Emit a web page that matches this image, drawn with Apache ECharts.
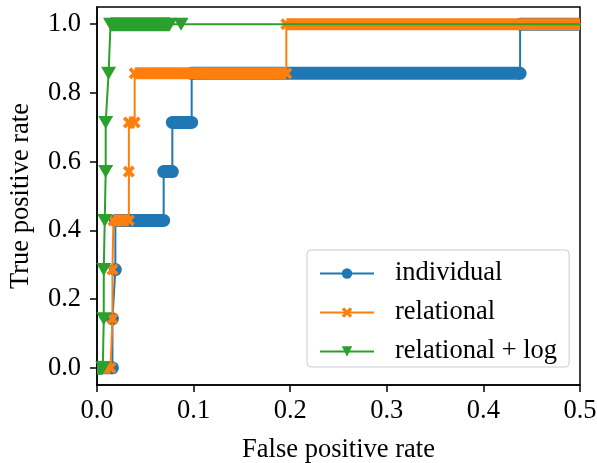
<!DOCTYPE html>
<html>
<head>
<meta charset="utf-8">
<script src="https://cdn.jsdelivr.net/npm/echarts@6/dist/echarts.min.js"></script>
<style>
html, body { margin: 0; padding: 0; background: #fff; }
#main { width: 597px; height: 463px; }
</style>
</head>
<body>
<div id="main"></div>
<script>
// ROC points [fpr, tpr, dense]; dense = 1 when the run to the next point is packed with thresholds
var individual = [
  [0, 0, 1], [0.016, 0, 0], [0.016, 0.143, 0], [0.019, 0.286, 0], [0.019, 0.429, 1],
  [0.069, 0.429, 0], [0.069, 0.571, 1], [0.078, 0.571, 0], [0.078, 0.714, 1],
  [0.098, 0.714, 0], [0.098, 0.857, 1], [0.438, 0.857, 0], [0.438, 1, 1], [1, 1, 0]
]
var relational = [
  [0, 0, 1], [0.014, 0, 0], [0.016, 0.143, 0], [0.016, 0.286, 0], [0.017, 0.429, 1],
  [0.033, 0.429, 0], [0.033, 0.571, 0], [0.033, 0.714, 1], [0.039, 0.714, 0],
  [0.039, 0.857, 1], [0.196, 0.857, 0], [0.196, 1, 1], [1, 1, 0]
]
var relationalLog = [
  [0, 0, 1], [0.006, 0, 0], [0.007, 0.143, 0], [0.007, 0.286, 0], [0.008, 0.429, 0],
  [0.009, 0.571, 0], [0.009, 0.714, 0], [0.012, 0.857, 0], [0.014, 1, 1],
  [0.0755, 1, 0], [0.087, 1, 0], [1, 1, 0]
]
var xTicks = [0, 0.1, 0.2, 0.3, 0.4, 0.5]
var yTicks = [0, 0.2, 0.4, 0.6, 0.8, 1.0]
var names = ['individual', 'relational', 'relational + log']
var xMax = 0.5

var colors = ['#1f77b4', '#ff7f0e', '#2ca02c']
var font = 'Liberation Serif, Times New Roman, serif'
var crossPath = 'path://M0,2.2 L2.2,0 L5,2.8 L7.8,0 L10,2.2 L7.2,5 L10,7.8 L7.8,10 L5,7.2 L2.2,10 L0,7.8 L2.8,5 Z'
var symbols = [
  {symbol: 'circle', size: 13, rotate: 0, band: 13},
  {symbol: crossPath, size: 12, rotate: 0, band: 12},
  {symbol: 'triangle', size: [15, 13], rotate: 180, band: 14}
]

var myChart = echarts.init(document.getElementById('main'))
var series = []
var curves = [individual, relational, relationalLog]
for (var k = 0; k < curves.length; k++) {
  var pts = curves[k]
  // points sitting on the y axis get no marker (matplotlib clips them)
  var data = pts.map(function (p) {
    return p[0] === 0 ? {value: [p[0], p[1]], symbol: 'none'} : [p[0], p[1]]
  })
  series.push({
    name: names[k],
    type: 'line',
    z: 2 + k,
    data: data,
    symbol: symbols[k].symbol,
    symbolSize: symbols[k].size,
    symbolRotate: symbols[k].rotate,
    showAllSymbol: true,
    clip: true,
    animation: false,
    color: colors[k],
    itemStyle: {color: colors[k]},
    lineStyle: {color: colors[k], width: 2}
  })
  // dense runs of markers look like a thick bar; stop it at the axis end
  for (var i = 0; i < pts.length - 1; i++) {
    if (!pts[i][2]) continue
    series.push({
      type: 'line',
      z: 2 + k,
      silent: true,
      symbol: 'none',
      clip: true,
      animation: false,
      data: [[pts[i][0], pts[i][1]], [Math.min(pts[i + 1][0], xMax), pts[i + 1][1]]],
      lineStyle: {color: colors[k], width: symbols[k].band, cap: 'butt'}
    })
  }
}

var option = {
  animation: false,
  grid: {
    left: 97, right: 17, top: 7, bottom: 78,
    outerBoundsMode: 'none', containLabel: false,
    show: true, borderColor: '#000', borderWidth: 1.5
  },
  legend: {
    data: names,
    orient: 'vertical',
    left: 307,
    top: 250,
    padding: [10, 12, 2, 12],
    itemGap: 12,
    itemWidth: 54,
    itemHeight: 13,
    borderColor: '#cccccc',
    borderWidth: 1,
    borderRadius: 4,
    backgroundColor: 'rgba(255,255,255,0.8)',
    textStyle: {fontFamily: font, fontSize: 26.5, color: '#000', padding: [0, 0, 0, 16]}
  },
  xAxis: {
    type: 'value',
    min: 0,
    max: xMax,
    name: 'False positive rate',
    nameLocation: 'middle',
    nameGap: 52,
    nameTextStyle: {fontFamily: font, fontSize: 26.5, color: '#000'},
    axisLine: {onZero: false, lineStyle: {color: '#000', width: 1.5}},
    axisTick: {length: 7, lineStyle: {color: '#000', width: 1.5}, customValues: xTicks},
    axisLabel: {
      customValues: xTicks,
      margin: 13,
      showMinLabel: true,
      showMaxLabel: true,
      fontFamily: font, fontSize: 26.5, color: '#000',
      formatter: function (v) { return v.toFixed(1) }
    },
    splitLine: {show: false}
  },
  yAxis: {
    type: 'value',
    min: -0.05,
    max: 1.05,
    name: 'True positive rate',
    nameLocation: 'middle',
    nameGap: 62,
    nameTextStyle: {fontFamily: font, fontSize: 26.5, color: '#000'},
    axisLine: {show: true, onZero: false, lineStyle: {color: '#000', width: 1.5}},
    axisTick: {show: true, length: 7, lineStyle: {color: '#000', width: 1.5}, customValues: yTicks},
    axisLabel: {
      customValues: yTicks,
      margin: 16,
      fontFamily: font, fontSize: 26.5, color: '#000',
      formatter: function (v) { return v.toFixed(1) }
    },
    splitLine: {show: false}
  },
  series: series
}
myChart.setOption(option)
</script>
</body>
</html>
